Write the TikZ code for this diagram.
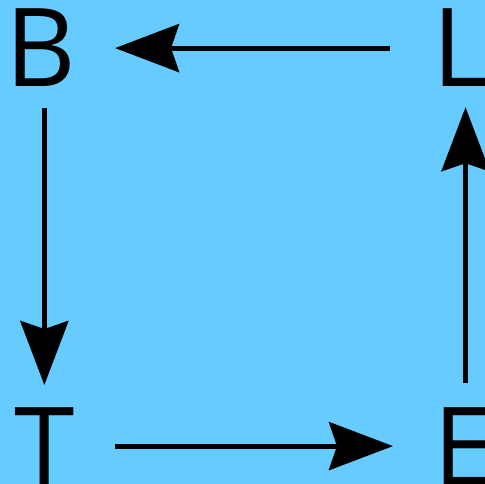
\documentclass[tikz,border=0pt]{standalone}
\usepackage{fontspec}
\setmainfont{Open Sans}
\usepackage{xcolor}
\usetikzlibrary{arrows.meta}
\definecolor{skyblue}{HTML}{66CCFF}
\begin{document}
\begin{tikzpicture}[x=1pt,y=-1pt,
  letter/.style={inner sep=0pt,anchor=base west,font=\fontsize{109}{109}\selectfont},
  flow/.style={line width=5pt,-{Stealth[length=64pt,width=48pt,inset=8pt]}}]
%
\useasboundingbox (0,0) rectangle (485,484);
\clip (0,0) rectangle (485,484);
\fill[skyblue] (0,0) rectangle (485,484);
%
\node (B) at (5,87) [letter] {B};
\node (L) at (432,87) [letter] {L};
\node (T) at (14,485) [letter] {T};
\node (E) at (433,485) [letter] {E};
%%
\draw[flow] ([xshift=-42pt]L.west) -- ([xshift=39pt]B.east);
\draw[flow] ([yshift=-21pt]B.south -| T) -- ([yshift=22pt]T.north);
\draw[flow] ([xshift=40pt]T.east) -- ([xshift=-40pt]E.west);
\draw[flow] ([xshift=2pt,yshift=24pt]E.north) -- ([xshift=2pt,yshift=-20pt]E.north |- L.south);
\end{tikzpicture}
\end{document}
